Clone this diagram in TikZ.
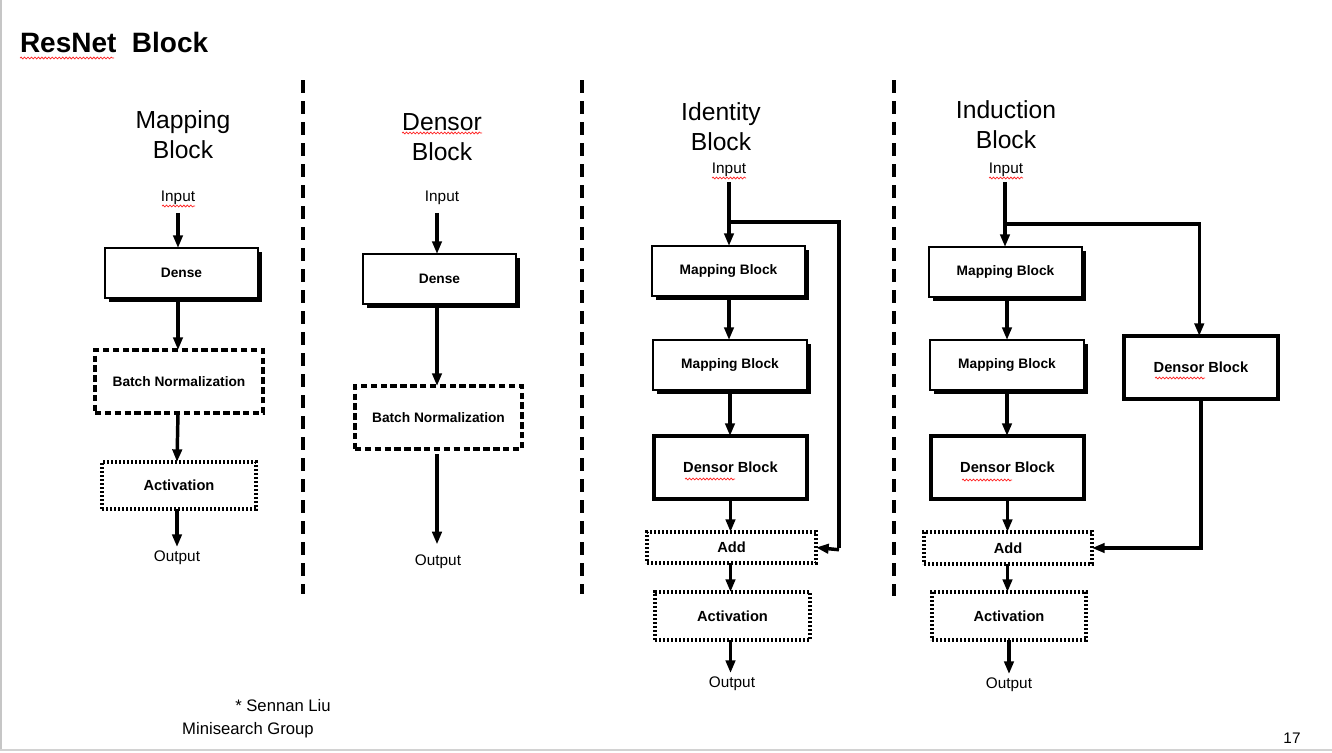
\documentclass[tikz,border=0pt]{standalone}
\usepackage{fontspec}
\setmainfont{Liberation Sans}
\usetikzlibrary{arrows.meta,shadows,decorations.pathmorphing}
\newcommand{\pxu}{0.75pt}
\begin{document}
\begin{tikzpicture}[x=0.75pt,y=-0.75pt,
  every node/.style={inner sep=0pt, outer sep=0pt},
  lbl/.style={font=\fontsize{11.5pt}{13pt}\selectfont},
  head/.style={font=\fontsize{18.5pt}{22.5pt}\selectfont, align=center},
  boxfont/.style={font=\fontsize{10.3pt}{12pt}\selectfont\bfseries},
  bigfont/.style={font=\fontsize{11pt}{12pt}\selectfont\bfseries},
  sbox/.style={boxfont, draw, line width=1pt, fill=white,
    drop shadow={shadow xshift=2.8pt, shadow yshift=-2.8pt, fill=black, opacity=1}},
  thbox/.style={bigfont, draw, line width=2.6pt, fill=white},
  dbox/.style={boxfont, draw, line width=2.4pt, dash pattern=on 4.8pt off 2.6pt},
  obox/.style={bigfont, draw, line width=2.4pt, dash pattern=on 1.6pt off 1.4pt},
  arr/.style={line width=2.6pt, -{Triangle[length=9.5pt,width=7pt]}},
  link/.style={line width=2.6pt},
  sep/.style={line width=2.6pt, dash pattern=on 9.75pt off 6pt},
  squig/.style={draw=red!85, line width=0.55pt, decorate,
    decoration={snake, amplitude=0.7pt, segment length=2.6pt}}
]
\useasboundingbox (0,0) rectangle (1332,753);
\fill[white] (0,0) rectangle (1332,753);
\draw[gray!45, line width=1.2pt] (0.8,0) -- (0.8,749);
\draw[gray!35, line width=1.5pt] (0,749.5) -- (1332,749.5);

% title
\node[anchor=west, font=\fontsize{21pt}{24pt}\selectfont\bfseries] (title) at (20,42) {ResNet~~Block};
\draw[squig] (20,58) -- (114,58);

% separators
\draw[sep] (303,80) -- (303,594);
\draw[sep] (582,80) -- (582,594);
\draw[sep] (894,80) -- (894,596);

% ---------- Mapping Block ----------
\node[head] (mh) at (183,135) {Mapping\\Block};
\node[lbl] (m-in) at (178,198) {Input};
\draw[squig] (162,206) -- (195,206);
\node[sbox, minimum width=153*\pxu, minimum height=50*\pxu] (m-d) at (181.5,273) {Dense};
\node[dbox, minimum width=168*\pxu, minimum height=63*\pxu] (m-bn) at (179,381.5) {Batch Normalization};
\node[obox, minimum width=154*\pxu, minimum height=47*\pxu] (m-act) at (179,485.5) {Activation};
\node[lbl] (m-out) at (177,558) {Output};
\draw[arr] ([yshift=-6pt]m-in.south) -- (m-d.north -| m-in);
\draw[arr] (m-d.south -| m-in) -- (m-bn.north -| m-in);
\draw[arr] (m-bn.south -| m-in) -- (m-act.north -| m-out);
\draw[arr] (m-act.south -| m-out) -- ([yshift=3pt]m-out.north);

% ---------- Densor Block ----------
\node[head] (dh) at (442,137) {Densor\\Block};
\draw[squig] (402,133) -- (482,133);
\node[lbl] (d-in) at (442,198) {Input};
\coordinate (d-x) at (437,0);
\node[sbox, minimum width=153*\pxu, minimum height=50*\pxu] (d-d) at (439.5,279) {Dense};
\node[dbox, minimum width=167*\pxu, minimum height=63*\pxu] (d-bn) at (438.5,417.5) {Batch Normalization};
\node[lbl] (d-out) at (438,562) {Output};
\draw[arr] ([yshift=-6pt]d-in.south -| d-x) -- (d-d.north -| d-x);
\draw[arr] (d-d.south -| d-x) -- (d-bn.north -| d-x);
\draw[arr] ([yshift=-4pt]d-bn.south -| d-x) -- ([yshift=8pt]d-out.north -| d-x);

% ---------- Identity Block ----------
\node[head] (ih) at (721,127) {Identity\\Block};
\node[lbl] (i-in) at (729,170) {Input};
\draw[squig] (712,178) -- (746,178);
\node[sbox, minimum width=153*\pxu, minimum height=50*\pxu] (i-m1) at (728.5,271) {Mapping Block};
\node[sbox, minimum width=154*\pxu, minimum height=50*\pxu] (i-m2) at (730,365) {Mapping Block};
\node[thbox, minimum width=153*\pxu, minimum height=63*\pxu] (i-den) at (730.5,467.5) {Densor Block};
\draw[squig] (685,479) -- (735,479);
\node[obox, minimum width=169*\pxu, minimum height=31*\pxu] (i-add) at (731.5,547.5) {Add};
\node[obox, minimum width=155*\pxu, minimum height=48*\pxu] (i-act) at (732.5,616) {Activation};
\node[lbl] (i-out) at (732,684) {Output};
\coordinate (i-br) at (729,222);
\coordinate (i-c1) at (839,222);
\coordinate (i-c2) at (839,548);
\draw[link] ([yshift=-4pt]i-in.south) -- (i-br);
\draw[arr] (i-br) -- (i-m1.north -| i-br);
\draw[link, line join=miter] (i-br) -- (i-c1) -- (i-c2);
\draw[arr] ([yshift=-1.3pt]i-c2) -- (i-add.east);
\draw[arr] (i-m1.south -| i-br) -- (i-m2.north -| i-br);
\draw[arr] (i-m2.south) -- (i-den.north -| i-m2);
\draw[arr] (i-den.south) -- (i-add.north -| i-den);
\draw[arr] (i-add.south -| i-den) -- (i-act.north -| i-den);
\draw[arr] (i-act.south -| i-den) -- ([yshift=3pt]i-out.north -| i-den);

% ---------- Induction Block ----------
\node[head] (nh) at (1006,125) {Induction\\Block};
\node[lbl] (n-in) at (1006,170) {Input};
\draw[squig] (989,178) -- (1023,178);
\node[sbox, minimum width=153*\pxu, minimum height=50*\pxu] (n-m1) at (1005.5,272) {Mapping Block};
\node[sbox, minimum width=154*\pxu, minimum height=50*\pxu] (n-m2) at (1007,365) {Mapping Block};
\node[thbox, minimum width=153*\pxu, minimum height=63*\pxu] (n-den) at (1007.5,467.5) {Densor Block};
\draw[squig] (962,480) -- (1012,480);
\node[thbox, minimum width=154*\pxu, minimum height=63*\pxu] (n-den2) at (1201,367.5) {Densor Block};
\draw[squig] (1155,378) -- (1205,378);
\node[obox, minimum width=168*\pxu, minimum height=32*\pxu] (n-add) at (1008,548) {Add};
\node[obox, minimum width=154*\pxu, minimum height=48*\pxu] (n-act) at (1009,616) {Activation};
\node[lbl] (n-out) at (1009,685) {Output};
\coordinate (n-br) at (1005,224);
\coordinate (n-c1) at (1201,224);
\coordinate (n-c2) at (1201,548);
\draw[link] ([yshift=-4pt]n-in.south -| n-br) -- (n-br);
\draw[arr] (n-br) -- (n-m1.north -| n-br);
\draw[link] (n-br) -- (n-c1);
\draw[arr] ([xshift=-1.3pt]n-c1) -- ([xshift=-1.3pt]n-c1 |- n-den2.north);
\draw[link] (n-den2.south) -- (n-c2);
\draw[arr] ([xshift=1.3pt]n-c2) -- (n-add.east);
\draw[arr] (n-m1.south -| n-m2) -- (n-m2.north -| n-m2);
\draw[arr] (n-m2.south -| n-m2) -- (n-den.north -| n-m2);
\draw[arr] (n-den.south) -- (n-add.north -| n-den);
\draw[arr] (n-add.south -| n-den) -- (n-act.north -| n-den);
\draw[arr] (n-act.south -| n-act) -- ([yshift=3pt]n-out.north -| n-act);

% footer
\node[font=\fontsize{12.5pt}{14pt}\selectfont] (f1) at (283,706) {* Sennan Liu};
\node[font=\fontsize{12.5pt}{14pt}\selectfont] (f2) at (248,730) {Minisearch Group};
\node[font=\fontsize{11.5pt}{13pt}\selectfont] (pg) at (1292,738) {17};
\end{tikzpicture}
\end{document}
